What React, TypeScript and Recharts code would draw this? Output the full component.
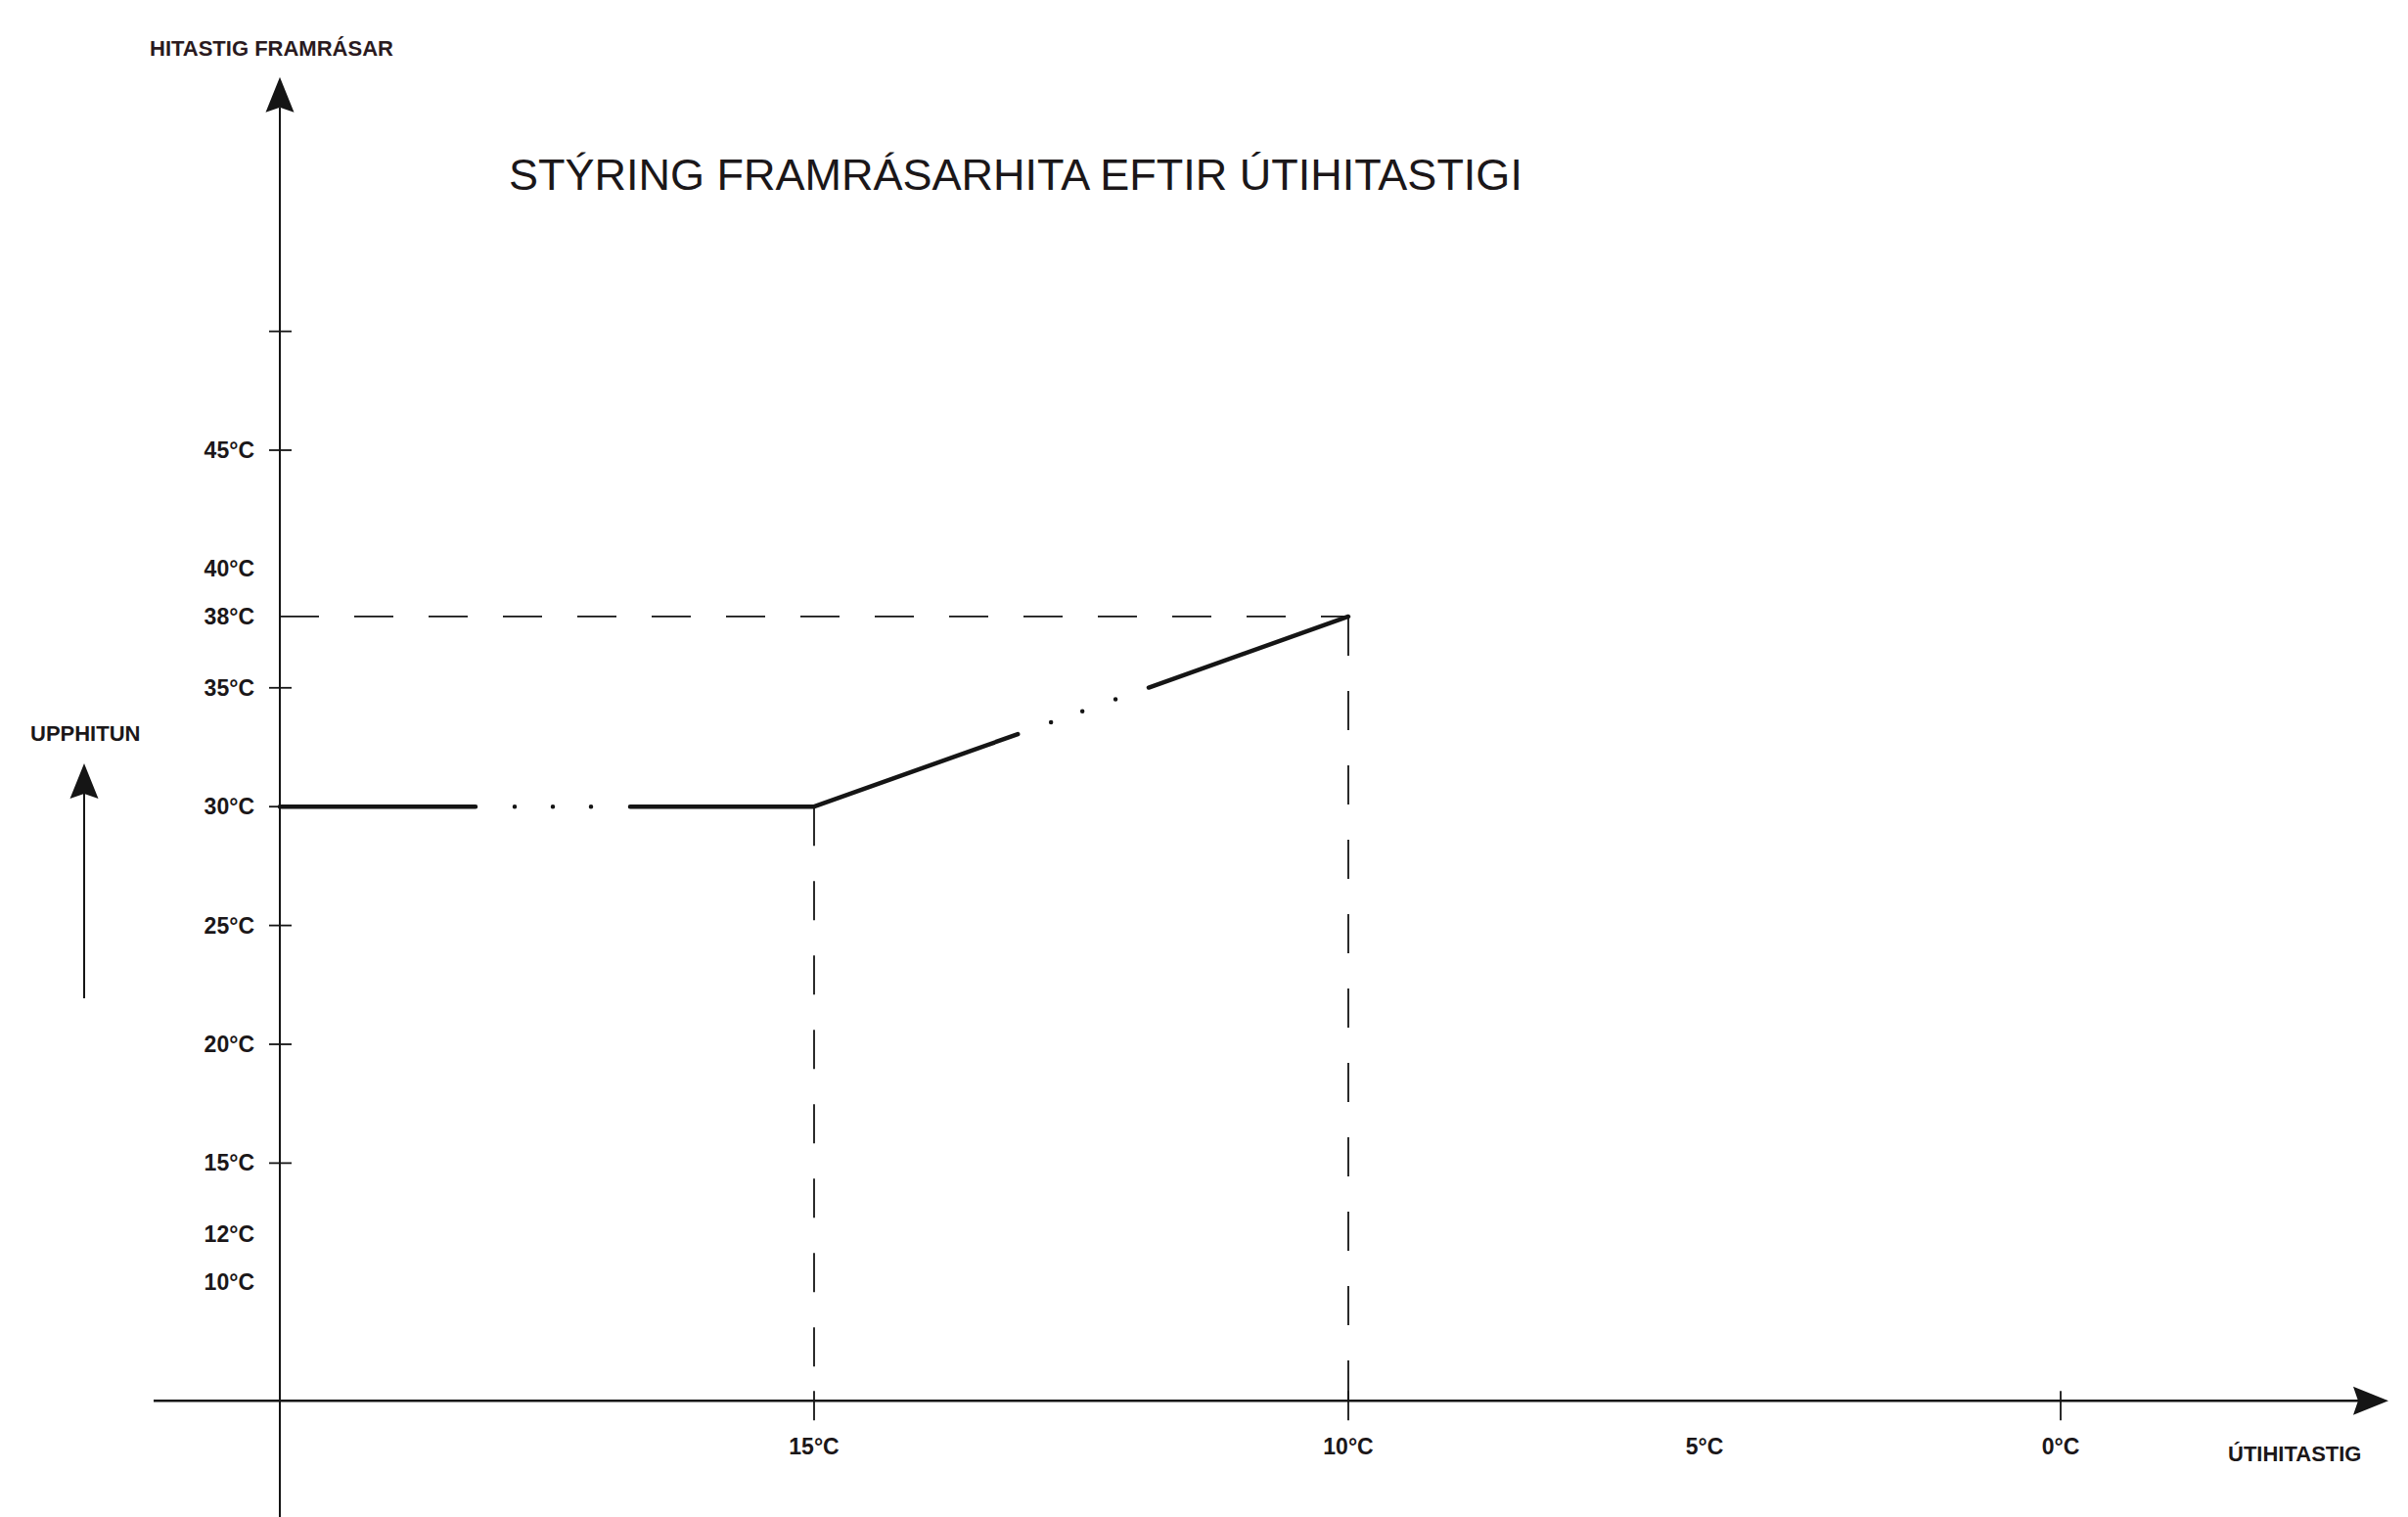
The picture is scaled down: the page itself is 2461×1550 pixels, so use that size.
import React from 'react';
import { LineChart, Line, XAxis, YAxis, ReferenceLine } from 'recharts';

// ---------- data ----------
// schematic outdoor-temperature axis (not to scale in the original drawing)
const outdoorKeys = ['c0', 'c1', 'c2', 'c3', 'c4', 'c5', 'c6', 'c7', 'c8', 'c9', 'c10'];
const outdoorLabels = ['', '', '', '15°C', '', '', '10°C', '', '5°C', '', '0°C'];
// supply (flow) temperature in °C at those outdoor positions
const supplyTemps: (number | null)[] = [30, null, null, 30, null, null, 38, null, null, null, null];

const yTickValues = [50, 45, 40, 38, 35, 30, 25, 20, 15, 12, 10];
const yTickLabels = ['', '45°C', '40°C', '38°C', '35°C', '30°C', '25°C', '20°C', '15°C', '12°C', '10°C'];
const yTickMarked = [50, 45, 35, 30, 25, 20, 15];
const xTickMarked = ['15°C', '10°C', '0°C'];

const yDomain: [number, number] = [5, 61];
const yAxisExtent = [0, 60.7];
const xAxisLevel = 5;

const titleText = 'STÝRING FRAMRÁSARHITA EFTIR ÚTIHITASTIGI';
const yAxisName = 'HITASTIG FRAMRÁSAR';
const xAxisName = 'ÚTIHITASTIG';
const sideNote = 'UPPHITUN';

// ---------- derived ----------
const data = outdoorKeys.map((k, i) => ({ key: k, label: outdoorLabels[i], supply: supplyTemps[i] }));
const labelByKey: Record<string, string> = {};
data.forEach((d) => (labelByKey[d.key] = d.label));
const knees = data.filter((d) => d.supply != null);
const lowKnee = knees[1];
const highKnee = knees[2];

// ---------- styling ----------
const W = 2453;
const H = 1542;
const X_PAD_LEFT = 129;
const X_PAD_RIGHT = 335;
const FONT = '"Liberation Sans", Arial, Helvetica, sans-serif';
const INK = '#151515';
const TEXT = '#1b1719';

const ArrowLine = (p: any) => {
  const { x1, y1, x2, y2, stroke, strokeWidth } = p;
  const horizontal = Math.abs(x2 - x1) >= Math.abs(y2 - y1);
  const a = { x: x1, y: y1 };
  const b = { x: x2, y: y2 };
  let tip, tail;
  if (horizontal) {
    tip = x1 > x2 ? a : b;
    tail = x1 > x2 ? b : a;
  } else {
    tip = y1 < y2 ? a : b;
    tail = y1 < y2 ? b : a;
  }
  const dx = tip.x - tail.x;
  const dy = tip.y - tail.y;
  const L = Math.hypot(dx, dy) || 1;
  const ux = dx / L;
  const uy = dy / L;
  const len = 36;
  const half = 14.5;
  const notch = 5;
  const bx = tip.x - ux * len;
  const by = tip.y - uy * len;
  const px = -uy;
  const py = ux;
  const pts = [
    [tip.x, tip.y],
    [bx + px * half, by + py * half],
    [bx + ux * notch, by + uy * notch],
    [bx - px * half, by - py * half],
  ];
  return (
    <g>
      <line x1={tail.x} y1={tail.y} x2={bx + ux * notch} y2={by + uy * notch} stroke={stroke} strokeWidth={strokeWidth} />
      <polygon points={pts.map((q) => q.join(',')).join(' ')} fill={stroke} />
    </g>
  );
};

const XTick = (props: any) => {
  const { x, y, payload } = props;
  const label = labelByKey[payload.value] ?? '';
  if (!label) return <g />;
  return (
    <g>
      {xTickMarked.includes(label) && (
        <line x1={x} x2={x} y1={y - 10} y2={y + 20} stroke={INK} strokeWidth={1.8} />
      )}
      <text x={x} y={y + 47} dy="0.35em" textAnchor="middle" fontFamily={FONT} fontWeight={700} fontSize={23} fill={TEXT}>
        {label}
      </text>
    </g>
  );
};

const YTick = (props: any) => {
  const { x, y, payload } = props;
  const axisX = x + X_PAD_LEFT;
  const idx = yTickValues.indexOf(payload.value);
  const label = idx >= 0 ? yTickLabels[idx] : '';
  return (
    <g>
      {yTickMarked.includes(payload.value) && (
        <line x1={axisX - 11} x2={axisX + 12} y1={y} y2={y} stroke={INK} strokeWidth={1.8} />
      )}
      {label && (
        <text x={axisX - 26} y={y} dy="0.35em" textAnchor="end" fontFamily={FONT} fontWeight={700} fontSize={23} fill={TEXT}>
          {label}
        </text>
      )}
    </g>
  );
};

export default function App() {
  return (
    <div style={{ position: 'relative', width: W, height: H, background: '#ffffff' }}>
      <LineChart width={W} height={H} data={data} margin={{ top: 63.5, right: 20, bottom: 58.8, left: 148 }}>
        <XAxis
          dataKey="key"
          type="category"
          height={60}
          padding={{ left: X_PAD_LEFT, right: X_PAD_RIGHT }}
          axisLine={false}
          tickLine={false}
          tickSize={0}
          tickMargin={0}
          interval={0}
          tick={(p: any) => <XTick {...p} />}
        />
        <YAxis
          type="number"
          domain={yDomain}
          ticks={yTickValues}
          width={1}
          axisLine={false}
          tickLine={false}
          tickSize={0}
          tickMargin={0}
          interval={0}
          allowDataOverflow
          tick={(p: any) => <YTick {...p} />}
        />
        <ReferenceLine y={xAxisLevel} stroke={INK} strokeWidth={2.5} ifOverflow="visible" shape={ArrowLine} />
        <ReferenceLine
          segment={[
            { x: outdoorKeys[0], y: yAxisExtent[0] },
            { x: outdoorKeys[0], y: yAxisExtent[1] },
          ]}
          stroke={INK}
          strokeWidth={2}
          ifOverflow="visible"
          shape={ArrowLine}
        />
        <ReferenceLine
          segment={[
            { x: outdoorKeys[0], y: highKnee.supply as number },
            { x: highKnee.key, y: highKnee.supply as number },
          ]}
          stroke={INK}
          strokeWidth={1.8}
          strokeDasharray="40 36"
          ifOverflow="visible"
        />
        <ReferenceLine
          segment={[
            { x: lowKnee.key, y: lowKnee.supply as number },
            { x: lowKnee.key, y: xAxisLevel },
          ]}
          stroke={INK}
          strokeWidth={1.8}
          strokeDasharray="40 36"
          ifOverflow="visible"
        />
        <ReferenceLine
          segment={[
            { x: highKnee.key, y: highKnee.supply as number },
            { x: highKnee.key, y: xAxisLevel },
          ]}
          stroke={INK}
          strokeWidth={1.8}
          strokeDasharray="40 36"
          ifOverflow="visible"
        />
        <Line
          type="linear"
          dataKey="supply"
          stroke={INK}
          strokeWidth={4.5}
          strokeLinecap="round"
          strokeLinejoin="round"
          strokeDasharray="200 40 0 39 0 39 0 40 409 36 0 34 0 36 0 36 600"
          dot={false}
          activeDot={false}
          connectNulls
          isAnimationActive={false}
        />
      </LineChart>
      <svg width={W} height={H} style={{ position: 'absolute', left: 0, top: 0, pointerEvents: 'none' }}>
        <text x={512} y={186} fontFamily={FONT} fontSize={45} fill={TEXT}>
          {titleText}
        </text>
        <text x={145} y={49} fontFamily={FONT} fontWeight={700} fontSize={22} fill="#2a1a20">
          {yAxisName}
        </text>
        <text x={2269} y={1485} fontFamily={FONT} fontWeight={700} fontSize={22} fill={TEXT}>
          {xAxisName}
        </text>
        <text x={23} y={749} fontFamily={FONT} fontWeight={700} fontSize={22} fill={TEXT}>
          {sideNote}
        </text>
        <line x1={78} y1={1012} x2={78} y2={803} stroke={INK} strokeWidth={2} />
        <polygon points="78,772 92.5,808 78,803 63.5,808" fill={INK} />
      </svg>
    </div>
  );
}
